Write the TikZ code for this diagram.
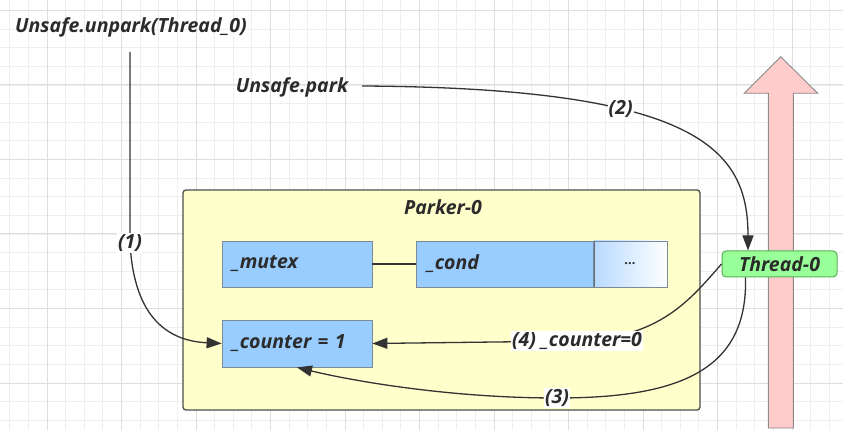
\documentclass[tikz,border=0pt]{standalone}
\usepackage{fontspec}
\setmainfont{Open Sans}
\usetikzlibrary{arrows.meta}
\definecolor{gridminor}{HTML}{EEEEEE}
\definecolor{gridmajor}{HTML}{DEDEDE}
\definecolor{parkerfill}{HTML}{FFFFCC}
\definecolor{boxblue}{HTML}{99CCFF}
\definecolor{boxlight}{HTML}{B8DAFF}
\definecolor{boxborder}{HTML}{7A8A99}
\definecolor{threadgreen}{HTML}{99FF99}
\definecolor{threadborder}{HTML}{55B055}
\definecolor{pinkfill}{HTML}{FFCCCC}
\definecolor{pinkborder}{HTML}{8A8A8A}
\definecolor{txt}{HTML}{2B2B2B}
\begin{document}
\begin{tikzpicture}[x=1pt,y=-1pt,
  font=\fontsize{19.5}{22}\selectfont\bfseries\itshape,
  every node/.style={text=txt},
  fieldbox/.style={draw=boxborder, line width=0.8pt, fill=boxblue, minimum height=46pt, inner xsep=10pt, align=left},
  lbl/.style={fill=white, inner sep=1pt},
  conn/.style={draw=black!80, line width=1.3pt, -{Triangle[length=15pt,width=11pt]}},
  plainconn/.style={draw=black!80, line width=1.3pt}]
\useasboundingbox (0,0) rectangle (843,430);
\fill[white] (0,0) rectangle (843,430);
% grid
\foreach \i in {0,...,45} {\draw[gridminor, line width=0.8pt] ({9.75+18.625*\i},0) -- ++(0,430);}
\foreach \i in {0,...,23} {\draw[gridminor, line width=0.8pt] (0,{10.5+18.625*\i}) -- ++(843,0);}
\foreach \i in {0,...,10} {\draw[gridmajor, line width=1pt] ({47+74.5*\i},0) -- ++(0,430);}
\foreach \i in {0,...,5} {\draw[gridmajor, line width=1pt] (0,{10.5+74.5*\i}) -- ++(843,0);}
% pink arrow
\draw[pinkborder, fill=pinkfill, line width=0.9pt, line join=miter]
  (768.3,428) -- (768.3,93.3) -- (744.3,93.3) -- (780.7,56.7) -- (817.7,93.3) -- (793.3,93.3) -- (793.3,428) -- cycle;
% texts
\node (unpark) at (131,27) {Unsafe.unpark(Thread\_0)};
\node (park) at (292,87) {Unsafe.park};
\coordinate (u1) at (130,52);
\coordinate (p1) at (362,86);
% Parker box
\node[draw=black!70, line width=1.3pt, fill=parkerfill, rounded corners=3pt, minimum width=517pt, minimum height=220pt] (parker) at (441.5,300) {};
\node (title) at (443,207) {Parker-0};
\node[fieldbox, minimum width=150pt, text width=130pt] (mutex) at (297,264) {\_mutex};
\node[fieldbox, minimum width=178pt, text width=156pt, inner xsep=11pt] (cond) at (505,264) {\_cond};
\node[draw=boxborder, line width=0.8pt, left color=boxlight, right color=white, minimum width=74pt, minimum height=46pt] (dots) at (630.5,264) {\fontsize{13}{14}\selectfont ...};
\draw[boxborder!80!black, line width=1.6pt] (cond.north east) -- (cond.south east);
\node[fieldbox, minimum width=150pt, minimum height=47pt, text width=130pt] (counter) at (297,343.5) {\_counter = 1};
\draw[plainconn] (mutex.east) -- (cond.west);
% Thread node
\node[draw=threadborder, line width=1pt, fill=threadgreen, rounded corners=4pt, minimum width=115pt, minimum height=26pt, inner sep=1pt] (thread) at (779.5,264) {Thread-0};
% connectors
\draw[conn] (u1) -- (130,243) node[lbl] {(1)} .. controls (134,320) and (170,341) .. (counter.west);
\draw[conn] (p1) .. controls (700,88) and (748,150) .. node[lbl, pos=0.35] {(2)} ([xshift=-31.5pt]thread.north);
\draw[conn] (thread.west) .. controls (690,300) and (660,338) .. (577,341) node[lbl] {(4) \_counter=0} -- (counter.east);
\draw[conn] ([xshift=-34pt]thread.south) .. controls (748,370) and (680,398) .. (557,398) node[lbl] {(3)} .. controls (440,398) and (340,378) .. (counter.south);
\end{tikzpicture}
\end{document}
